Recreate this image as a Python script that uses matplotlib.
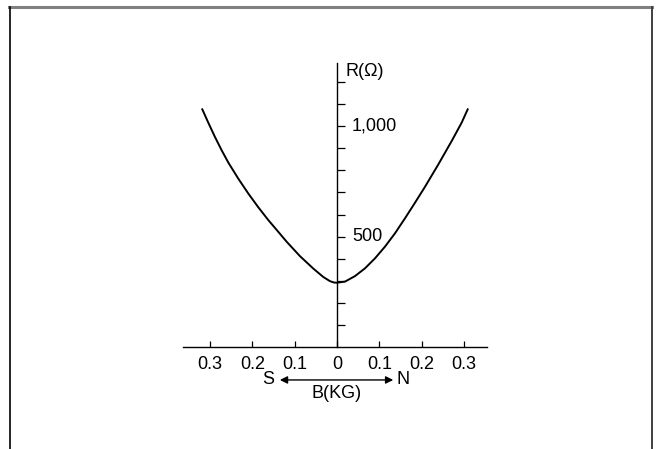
import matplotlib.pyplot as plt
from matplotlib.lines import Line2D

plt.rcParams['font.family'] = ['Liberation Sans', 'DejaVu Sans']

# curve: field B (kG) vs resistance R (ohm)
b_vals = [-0.3184, -0.3043, -0.2884, -0.2726, -0.257, -0.2333, -0.2097, -0.1861,
          -0.1624, -0.1410, -0.1189, -0.0875, -0.056, -0.0324, -0.0165, -0.0071, 0.0,
          0.0189, 0.0426, 0.0662, 0.0898, 0.1135, 0.1371, 0.1608, 0.1827,
          0.208, 0.2395, 0.2712, 0.2948, 0.309]
r_vals = [1075, 1015, 950, 890, 835, 762, 695, 633,
          575, 527, 477, 412, 356, 318, 299, 293, 292,
          297, 322, 357, 402, 455, 515, 583, 648,
          725, 826, 932, 1015, 1075]

x_ticks = [-0.3, -0.2, -0.1, 0, 0.1, 0.2, 0.3]
x_labels = ["0.3", "0.2", "0.1", "0", "0.1", "0.2", "0.3"]
y_ticks = list(range(100, 1300, 100))

fig = plt.figure(figsize=(6.59, 4.49), dpi=100)

# outer frame (open at the bottom)
fig.add_artist(Line2D([9 / 659, 652 / 659], [442 / 449, 442 / 449], color="#808080", lw=2.2))
fig.add_artist(Line2D([9.5 / 659, 9.5 / 659], [0, 442 / 449], color="black", lw=1.2))
fig.add_artist(Line2D([652 / 659, 652 / 659], [0, 442 / 449], color="#404040", lw=1.4))

ax = fig.add_axes([0.2225, 0.029, 0.5777, 0.8878])
ax.set_xlim(-0.45, 0.45)
ax.set_ylim(-400, 1400)

ax.plot(b_vals, r_vals, color="black", lw=1.4)

for s in ["top", "right"]:
    ax.spines[s].set_visible(False)
ax.spines["left"].set_position(("data", 0))
ax.spines["bottom"].set_position(("data", 0))
ax.spines["left"].set_bounds(0, 1285)
ax.spines["bottom"].set_bounds(-0.364, 0.355)
for s in ["left", "bottom"]:
    ax.spines[s].set_linewidth(1.0)

ax.set_xticks(x_ticks)
ax.set_xticklabels(x_labels)
ax.set_yticks(y_ticks)
ax.set_yticklabels([])
ax.tick_params(axis="x", direction="in", length=4.5, width=0.9, pad=6, labelsize=13)
ax.tick_params(axis="y", direction="in", length=5.8, width=0.9)

ax.text(0.0355, 1000, "1,000", fontsize=13, va="center", ha="left")
ax.text(0.0355, 500, "500", fontsize=13, va="center", ha="left")
ax.text(0.019, 1244, "R(Ω)", fontsize=13, va="center", ha="left")

ax.text(-0.163, -147, "S", fontsize=13, va="center", ha="center")
ax.text(0.156, -147, "N", fontsize=13, va="center", ha="center")
ax.annotate("", xy=(-0.135, -147), xytext=(0.133, -147),
            arrowprops=dict(arrowstyle="<|-|>", color="black", lw=1.0,
                            mutation_scale=11, shrinkA=0, shrinkB=0))
ax.text(0, -206, "B(KG)", fontsize=13, va="center", ha="center")

plt.savefig("out.png", dpi=100)
